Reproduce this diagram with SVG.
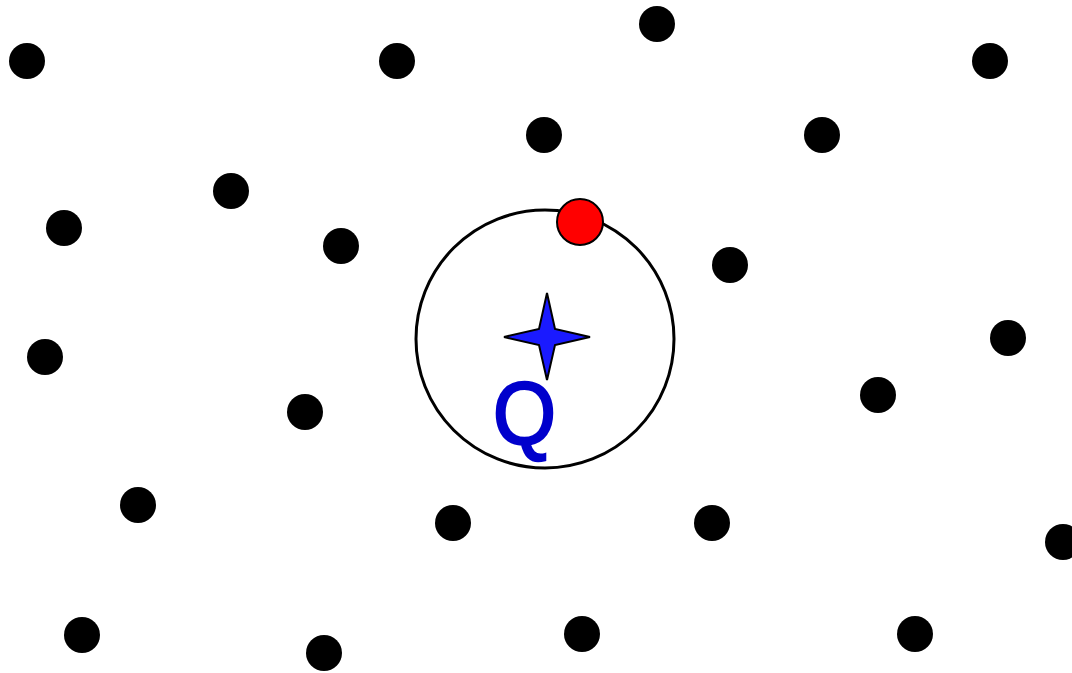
<svg xmlns="http://www.w3.org/2000/svg" width="1072" height="673" viewBox="0 0 1072 673">
<style>
.dot{fill:#000;}
.ring{fill:none;stroke:#000;stroke-width:3;}
.lbl{font-family:Arial,"Liberation Sans",Helvetica,sans-serif;font-size:88px;fill:#0000cc;stroke:#0000cc;stroke-width:2.5px;}
</style>
<rect width="1072" height="673" fill="#fff"/>
<g id="dots">
<circle class="dot" cx="27" cy="61" r="18"/>
<circle class="dot" cx="397" cy="61" r="18"/>
<circle class="dot" cx="657" cy="24" r="18"/>
<circle class="dot" cx="990" cy="61" r="18"/>
<circle class="dot" cx="544" cy="135" r="18"/>
<circle class="dot" cx="822" cy="135" r="18"/>
<circle class="dot" cx="231" cy="191" r="18"/>
<circle class="dot" cx="64" cy="228" r="18"/>
<circle class="dot" cx="341" cy="246" r="18"/>
<circle class="dot" cx="730" cy="265" r="18"/>
<circle class="dot" cx="45" cy="357" r="18"/>
<circle class="dot" cx="1008" cy="338" r="18"/>
<circle class="dot" cx="305" cy="412" r="18"/>
<circle class="dot" cx="878" cy="395" r="18"/>
<circle class="dot" cx="138" cy="505" r="18"/>
<circle class="dot" cx="453" cy="523" r="18"/>
<circle class="dot" cx="712" cy="523" r="18"/>
<circle class="dot" cx="1063" cy="542" r="18"/>
<circle class="dot" cx="82" cy="635" r="18"/>
<circle class="dot" cx="324" cy="653" r="18"/>
<circle class="dot" cx="582" cy="634" r="18"/>
<circle class="dot" cx="915" cy="634" r="18"/>
</g>
<g id="query-circle">
<circle class="ring" cx="545" cy="339" r="129"/>
</g>
<g id="red-point">
<circle cx="580" cy="222" r="23" fill="#ff0000" stroke="#000" stroke-width="2"/>
</g>
<g id="star">
<polygon points="547,293 555,329 590,337 555,345 547,380 539,345 504,337 539,329" fill="#1a1aff" stroke="#000" stroke-width="2" stroke-linejoin="miter"/>
</g>
<g id="label">
<text class="lbl" x="0" y="0" transform="translate(493,444) scale(0.92,1.02)">Q</text>
</g>
</svg>
